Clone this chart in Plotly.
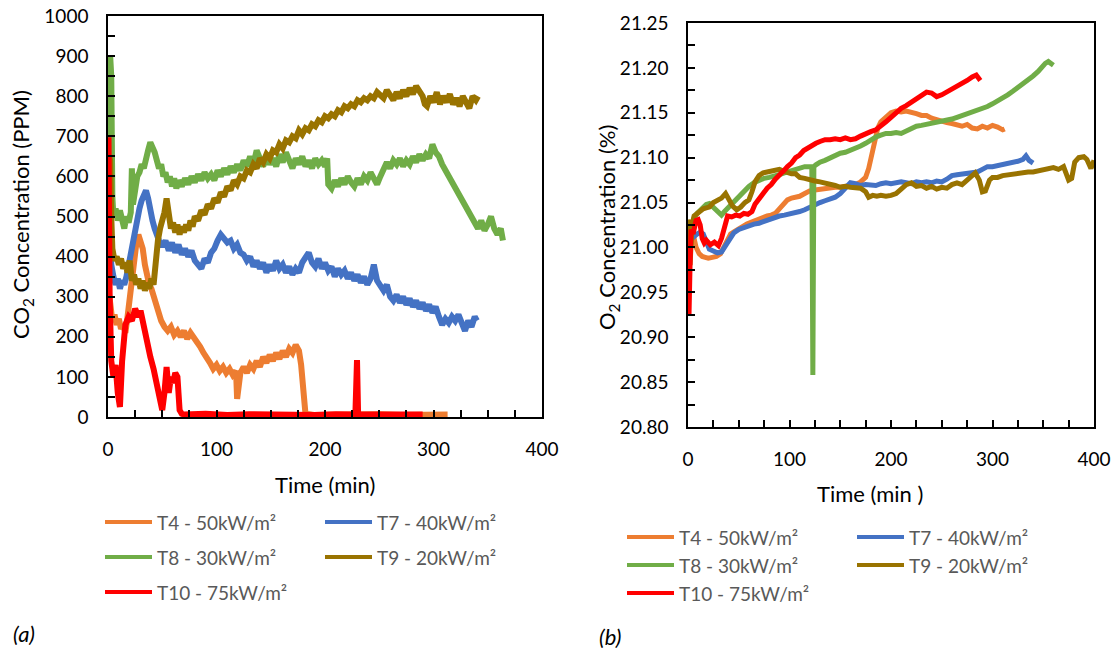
import plotly.graph_objects as go

W, H = 1117, 652

# ---------------- data (time in min, value) ----------------
# CO2 concentration (ppm), panel (a)
co2_t4 = [(0,330),(1,300),(2,260),(4,240),(6,255),(8,230),(10,245),(12,220),(14,230),(16,210),(18,250),
          (20,300),(22,350),(24,400),(26,430),(28,455),(30,440),(32,420),(34,380),(36,350),(38,330),(40,320),
          (43,290),(46,270),(49,240),(52,225),(55,215),(58,225),(61,205),(64,215),(67,200),(70,215),(73,195),
          (76,210),(79,200),(82,190),(85,175),(88,160),(91,150),(94,135),(97,120),(100,130),(103,115),(106,125),
          (109,110),(112,120),(115,105),(118,115),(119,45),(120,60),(122,110),(125,125),(128,110),(131,130),
          (134,120),(137,140),(140,125),(143,150),(146,135),(149,155),(152,140),(155,160),(158,145),(161,165),
          (164,150),(167,170),(170,160),(173,180),(176,165),(178,130),(180,40),(182,8),(190,5),(210,6),(230,5),
          (250,7),(270,5),(290,6),(300,5),(313,6)]

co2_t7 = [(0,810),(0.5,700),(1.5,450),(3,380),(5,350),(7,330),(9,345),(11,320),(13,340),(15,330),(17,350),
          (19,380),(21,420),(23,450),(25,480),(27,500),(29,520),(31,540),(33,550),(35,565),(37,545),(39,510),
          (41,490),(43,470),(45,450),(47,440),(50,425),(53,440),(56,415),(59,435),(62,410),(65,430),(68,405),
          (71,420),(74,400),(77,415),(80,390),(83,380),(86,370),(89,395),(92,385),(95,410),(98,420),(101,440),
          (104,455),(107,445),(110,435),(113,440),(116,420),(119,430),(122,410),(125,405),(128,390),(131,400),
          (134,375),(137,390),(140,370),(143,385),(146,360),(149,380),(152,365),(155,390),(158,370),(161,380),
          (164,360),(167,375),(170,355),(173,370),(176,360),(179,385),(182,395),(185,410),(188,385),(191,375),
          (194,395),(197,370),(200,385),(203,365),(206,375),(209,350),(212,370),(215,355),(218,365),(221,345),
          (224,360),(227,340),(230,355),(233,335),(236,350),(239,330),(242,345),(245,380),(248,340),(251,325),
          (254,315),(257,330),(260,300),(263,290),(266,305),(269,285),(272,300),(275,280),(278,295),(281,275),
          (284,290),(287,270),(290,285),(293,265),(296,280),(299,260),(302,275),(305,250),(308,230),(311,245),
          (314,235),(317,250),(320,240),(323,255),(326,230),(329,215),(332,240),(335,225),(338,250),(340,240)]

co2_t8 = [(0,500),(1,700),(2,900),(3,850),(4,550),(5,500),(7,520),(9,490),(11,515),(13,495),(15,470),(17,500),
          (19,485),(21,510),(22,620),(23,530),(25,580),(27,600),(29,610),(31,630),(33,620),(35,650),(37,665),
          (39,685),(41,675),(43,660),(45,640),(47,620),(49,630),(51,600),(53,610),(55,585),(57,600),(59,575),
          (61,595),(63,570),(65,590),(68,575),(71,595),(74,580),(77,600),(80,585),(83,605),(86,590),(89,610),
          (92,595),(95,605),(98,590),(101,615),(104,600),(107,620),(110,605),(113,625),(116,610),(119,630),
          (122,615),(125,640),(128,625),(131,650),(134,630),(137,665),(140,640),(143,625),(146,650),(149,630),
          (152,645),(155,625),(158,655),(161,635),(164,660),(167,640),(170,620),(173,645),(176,630),(179,650),
          (182,625),(185,640),(188,620),(191,645),(194,630),(197,640),(200,625),(202,645),(203,580),(206,570),
          (209,590),(212,575),(215,595),(218,580),(221,600),(224,585),(227,575),(230,595),(233,580),(236,600),
          (239,590),(242,610),(245,595),(248,580),(251,600),(254,620),(257,635),(260,620),(263,640),(266,630),
          (269,645),(272,625),(275,640),(278,630),(281,650),(284,635),(287,655),(290,640),(293,655),(296,645),
          (299,680),(302,660),(305,650),(308,630),(311,615),(314,600),(317,590),(320,570),(323,560),(326,545),
          (329,530),(332,510),(335,495),(338,480),(341,470),(344,490),(347,465),(350,480),(353,500),(356,470),
          (359,455),(362,470),(364,440)]

co2_t9 = [(0,600),(1,650),(2,640),(3,500),(4,420),(6,390),(8,400),(10,380),(12,395),(14,370),(16,385),(18,360),
          (20,390),(22,340),(24,355),(26,330),(28,345),(30,320),(32,340),(34,315),(36,335),(38,320),(40,345),
          (42,330),(44,400),(46,440),(48,470),(50,490),(52,510),(54,545),(56,500),(58,470),(60,485),(62,460),
          (64,480),(66,455),(68,475),(70,460),(72,480),(74,465),(76,490),(78,475),(80,500),(83,490),(86,515),
          (89,505),(92,530),(95,520),(98,545),(101,535),(104,560),(107,550),(110,575),(113,565),(116,590),
          (119,580),(122,600),(125,595),(128,615),(131,610),(134,630),(137,620),(140,645),(143,635),(146,655),
          (149,645),(152,665),(155,660),(158,680),(161,670),(164,690),(167,685),(170,700),(173,695),(176,715),
          (179,705),(182,720),(185,715),(188,730),(191,725),(194,740),(197,735),(200,750),(203,745),(206,755),
          (209,750),(212,765),(215,760),(218,775),(221,770),(224,780),(227,775),(230,790),(233,785),(236,795),
          (239,790),(242,800),(245,795),(248,810),(251,800),(254,795),(257,815),(260,800),(263,790),(266,810),
          (269,795),(272,815),(275,800),(278,820),(281,805),(284,825),(287,810),(290,800),(292,780),(294,775),
          (297,800),(300,785),(303,810),(306,780),(309,800),(312,785),(315,805),(318,780),(321,795),(324,775),
          (327,800),(330,785),(333,770),(336,800),(339,790),(341,800)]

co2_t10 = [(0,690),(0.5,690),(1.5,300),(3,140),(5,100),(7,130),(9,60),(11,25),(13,140),(16,230),(19,250),
           (22,240),(25,270),(28,250),(30,265),(33,220),(36,190),(39,150),(42,120),(45,85),(48,40),(50,17),
           (52,60),(54,125),(56,60),(58,100),(60,85),(62,110),(64,100),(66,17),(68,8),(70,6),(90,8),(110,5),
           (130,7),(150,6),(170,8),(190,5),(210,7),(228,6),(229.5,142),(230.5,8),(232,6),(250,7),(270,5),(290,6)]

# O2 concentration (%), panel (b)
o2_t4 = [(0,21.01),(2,21.02),(5,21.015),(8,21.0),(11,20.993),(14,20.99),(17,20.989),(20,20.988),(24,20.989),
         (28,20.99),(32,20.993),(35,21.0),(38,21.008),(42,21.015),(46,21.018),(50,21.021),(54,21.023),
         (58,21.026),(62,21.028),(66,21.03),(70,21.031),(74,21.033),(78,21.035),(82,21.036),(86,21.038),
         (90,21.043),(94,21.049),(98,21.053),(102,21.055),(106,21.056),(110,21.057),(115,21.06),(120,21.063),
         (125,21.064),(130,21.065),(135,21.066),(140,21.066),(145,21.067),(150,21.067),(155,21.068),(160,21.069),
         (165,21.07),(170,21.073),(175,21.078),(178,21.088),(181,21.105),(184,21.12),(187,21.133),(190,21.14),
         (195,21.145),(200,21.15),(205,21.152),(210,21.151),(215,21.152),(220,21.151),(225,21.149),(230,21.147),
         (235,21.147),(240,21.144),(245,21.142),(250,21.14),(255,21.139),(260,21.138),(265,21.136),(270,21.135),
         (275,21.137),(280,21.133),(285,21.132),(290,21.135),(295,21.133),(300,21.136),(305,21.134),(310,21.131),
         (312,21.132)]

o2_t7 = [(0,21.0),(1,21.01),(3,21.015),(6,21.012),(9,21.015),(12,21.017),(15,21.015),(18,21.005),(21,20.998),
         (25,20.996),(29,20.994),(33,20.995),(37,21.002),(41,21.01),(45,21.016),(50,21.02),(55,21.022),(60,21.025),
         (65,21.026),(70,21.027),(75,21.029),(80,21.032),(85,21.034),(90,21.035),(95,21.036),(100,21.037),
         (105,21.038),(110,21.04),(115,21.042),(120,21.045),(125,21.048),(130,21.05),(135,21.052),(140,21.054),
         (145,21.056),(150,21.06),(155,21.066),(160,21.072),(165,21.071),(170,21.069),(175,21.07),(180,21.07),
         (185,21.069),(190,21.071),(195,21.072),(200,21.071),(205,21.072),(210,21.073),(215,21.072),(220,21.071),
         (225,21.073),(230,21.072),(235,21.073),(240,21.072),(245,21.074),(250,21.073),(255,21.076),(260,21.08),
         (265,21.081),(270,21.082),(275,21.082),(280,21.083),(285,21.084),(290,21.087),(295,21.09),(300,21.09),
         (305,21.091),(310,21.093),(315,21.094),(320,21.095),(325,21.096),(330,21.098),(333,21.102),(336,21.097),
         (340,21.094)]

o2_t8 = [(0,20.97),(1,21.0),(3,21.02),(6,21.033),(9,21.038),(12,21.042),(15,21.046),(18,21.048),(21,21.049),
         (24,21.046),(27,21.043),(30,21.04),(33,21.036),(36,21.04),(40,21.045),(44,21.05),(48,21.053),(52,21.06),
         (56,21.065),(60,21.068),(65,21.072),(70,21.075),(75,21.077),(80,21.078),(85,21.079),(90,21.081),
         (95,21.083),(100,21.085),(105,21.087),(110,21.089),(115,21.09),(120,21.09),(122,21.09),(123,20.858),
         (124,21.09),(126,21.092),(130,21.095),(135,21.097),(140,21.1),(145,21.102),(150,21.105),(155,21.106),
         (160,21.108),(165,21.11),(170,21.113),(175,21.116),(180,21.12),(185,21.123),(190,21.125),(195,21.127),
         (200,21.127),(205,21.128),(210,21.127),(215,21.13),(220,21.133),(225,21.135),(230,21.136),(235,21.137),
         (240,21.138),(245,21.14),(250,21.141),(255,21.142),(260,21.143),(265,21.145),(270,21.147),(275,21.149),
         (280,21.151),(285,21.153),(290,21.154),(295,21.157),(300,21.16),(305,21.163),(310,21.167),(315,21.17),
         (320,21.174),(325,21.178),(330,21.182),(335,21.186),(340,21.191),(345,21.196),(348,21.2),(352,21.205),
         (355,21.207),(358,21.205),(360,21.203)]

o2_t9 = [(0,21.031),(1,21.02),(2,20.98),(3,21.0),(4,21.025),(6,21.035),(9,21.038),(12,21.04),(15,21.043),
         (18,21.044),(21,21.045),(25,21.05),(29,21.052),(33,21.055),(37,21.06),(40,21.055),(44,21.046),
         (48,21.042),(52,21.045),(56,21.05),(60,21.053),(63,21.062),(66,21.073),(70,21.08),(74,21.083),
         (78,21.084),(82,21.085),(86,21.086),(90,21.087),(94,21.085),(98,21.083),(102,21.082),(106,21.082),
         (110,21.078),(115,21.077),(120,21.075),(125,21.074),(130,21.073),(135,21.072),(140,21.07),(145,21.069),
         (150,21.067),(155,21.068),(160,21.067),(165,21.067),(170,21.066),(175,21.062),(178,21.056),(182,21.058),
         (186,21.057),(190,21.058),(195,21.057),(200,21.058),(205,21.06),(210,21.065),(215,21.07),(220,21.072),
         (225,21.068),(230,21.069),(235,21.066),(240,21.068),(245,21.065),(250,21.067),(255,21.066),(260,21.07),
         (265,21.072),(270,21.07),(275,21.075),(280,21.08),(283,21.083),(287,21.075),(290,21.062),(293,21.063),
         (297,21.075),(300,21.078),(305,21.078),(310,21.08),(315,21.081),(320,21.081),(325,21.082),(330,21.083),
         (335,21.084),(340,21.084),(345,21.085),(350,21.086),(355,21.087),(360,21.089),(365,21.087),(370,21.09),
         (375,21.075),(378,21.077),(381,21.095),(385,21.1),(390,21.101),(393,21.098),(397,21.088),(400,21.097)]

o2_t10 = [(0,20.93),(1,20.925),(2,20.98),(3,21.02),(5,21.015),(8,21.03),(10,21.031),(12,21.025),(14,21.01),
          (16,21.005),(18,21.008),(22,21.003),(26,21.006),(30,21.002),(33,21.01),(36,21.025),(39,21.035),
          (43,21.034),(47,21.036),(51,21.035),(55,21.038),(59,21.037),(63,21.04),(66,21.048),(70,21.053),
          (74,21.06),(78,21.066),(82,21.07),(86,21.076),(90,21.08),(94,21.085),(98,21.09),(102,21.094),(106,21.1),
          (110,21.103),(114,21.108),(118,21.111),(122,21.114),(126,21.116),(130,21.118),(135,21.12),(140,21.12),
          (145,21.121),(150,21.12),(155,21.122),(160,21.12),(165,21.121),(170,21.124),(175,21.127),(180,21.129),
          (185,21.131),(190,21.135),(195,21.14),(200,21.145),(205,21.15),(210,21.155),(215,21.158),(220,21.162),
          (225,21.165),(230,21.17),(235,21.173),(240,21.172),(245,21.168),(250,21.17),(255,21.173),(260,21.177),
          (265,21.18),(270,21.183),(275,21.186),(280,21.19),(284,21.192),(288,21.186)]

series_names = ["T4 - 50kW/m²", "T7 - 40kW/m²", "T8 - 30kW/m²", "T9 - 20kW/m²", "T10 - 75kW/m²"]
series_colors = ["#ED7D31", "#4472C4", "#70AD47", "#997300", "#FF0000"]
co2_series = [co2_t4, co2_t7, co2_t8, co2_t9, co2_t10]
o2_series = [o2_t4, o2_t7, o2_t8, o2_t9, o2_t10]

x_ticks = [0, 100, 200, 300, 400]

# ---------------- figure ----------------
def fx(p):
    return p / W

def fy(p):
    return 1 - p / H

FONT = "Lato, 'Open Sans', sans-serif"
fig = go.Figure()

for pts, name, col in zip(co2_series, series_names, series_colors):
    fig.add_trace(go.Scatter(x=[p[0] for p in pts], y=[p[1] for p in pts], mode="lines", name=name,
                             line=dict(color=col, width=6), xaxis="x", yaxis="y", showlegend=False))
for pts, name, col in zip(o2_series, series_names, series_colors):
    fig.add_trace(go.Scatter(x=[p[0] for p in pts], y=[p[1] for p in pts], mode="lines", name=name,
                             line=dict(color=col, width=5), xaxis="x2", yaxis="y2", showlegend=False))

axis_common = dict(showline=True, mirror=True, linecolor="black", linewidth=1.5, showgrid=False,
                   zeroline=False, ticks="inside", ticklen=7, tickwidth=1.5, tickcolor="black",
                   automargin=False,
                   tickfont=dict(family=FONT, size=19, color="black"), ticklabelstandoff=14)
minor_common = dict(ticks="inside", ticklen=7, tickwidth=1.5, tickcolor="black")

fig.update_layout(
    width=W, height=H, autosize=False, margin=dict(l=0, r=0, t=0, b=0, autoexpand=False),
    paper_bgcolor="white", plot_bgcolor="white",
    xaxis=dict(domain=[fx(108), fx(542)], range=[0, 400], tickvals=x_ticks, anchor="y",
               minor=dict(dtick=25, **minor_common), **axis_common),
    yaxis=dict(domain=[fy(417), fy(16)], range=[0, 1000], dtick=100, anchor="x",
               minor=dict(dtick=50, **minor_common), **axis_common),
    xaxis2=dict(domain=[fx(688), fx(1094)], range=[0, 400], tickvals=x_ticks, anchor="y2",
                minor=dict(dtick=25, **minor_common), **axis_common),
    yaxis2=dict(domain=[fy(427), fy(23)], range=[20.80, 21.25], dtick=0.05, tickformat=".2f", anchor="x2",
                minor=dict(dtick=0.025, **minor_common), **axis_common),
)

ann = []
shapes = []
title_font = dict(family=FONT, size=22, color="black")
ann.append(dict(x=fx(325), y=fy(484), text="Time (min)", showarrow=False, xref="paper", yref="paper",
                font=title_font, xanchor="center", yanchor="middle"))
ann.append(dict(x=fx(870), y=fy(493), text="Time (min )", showarrow=False, xref="paper", yref="paper",
                font=title_font, xanchor="center", yanchor="middle"))
ann.append(dict(x=fx(22), y=fy(215), text="CO<sub>2</sub> Concentration (PPM)", showarrow=False, xref="paper",
                yref="paper", font=title_font, textangle=-90, xanchor="center", yanchor="middle"))
ann.append(dict(x=fx(608), y=fy(227), text="O<sub>2</sub> Concentration (%)", showarrow=False, xref="paper",
                yref="paper", font=title_font, textangle=-90, xanchor="center", yanchor="middle"))
ann.append(dict(x=fx(11), y=fy(633), text="<i>(a)</i>", showarrow=False, xref="paper", yref="paper",
                font=dict(family=FONT, size=22, color="black"), xanchor="left", yanchor="middle"))
ann.append(dict(x=fx(597), y=fy(636), text="<i>(b)</i>", showarrow=False, xref="paper", yref="paper",
                font=dict(family=FONT, size=22, color="black"), xanchor="left", yanchor="middle"))

# legends drawn as line samples + labels
legend_layouts = [
    (105, 325, [522, 557, 592]),
    (627, 857, [537, 565, 593]),
]
for x_c1, x_c2, rows in legend_layouts:
    slots = [(x_c1, rows[0]), (x_c2, rows[0]), (x_c1, rows[1]), (x_c2, rows[1]), (x_c1, rows[2])]
    for (lx, ly), name, col in zip(slots, series_names, series_colors):
        shapes.append(dict(type="line", xref="paper", yref="paper", x0=fx(lx), x1=fx(lx + 47),
                           y0=fy(ly), y1=fy(ly), line=dict(color=col, width=4)))
        ann.append(dict(x=fx(lx + 50), y=fy(ly), text=name, showarrow=False, xref="paper", yref="paper",
                        font=dict(family=FONT, size=19, color="#595959"), xanchor="left", yanchor="middle"))

fig.update_layout(annotations=ann, shapes=shapes)
fig.write_html("out.html", config={"displayModeBar": False},
               post_script="document.body.style.margin='0';document.body.style.padding='0';")
